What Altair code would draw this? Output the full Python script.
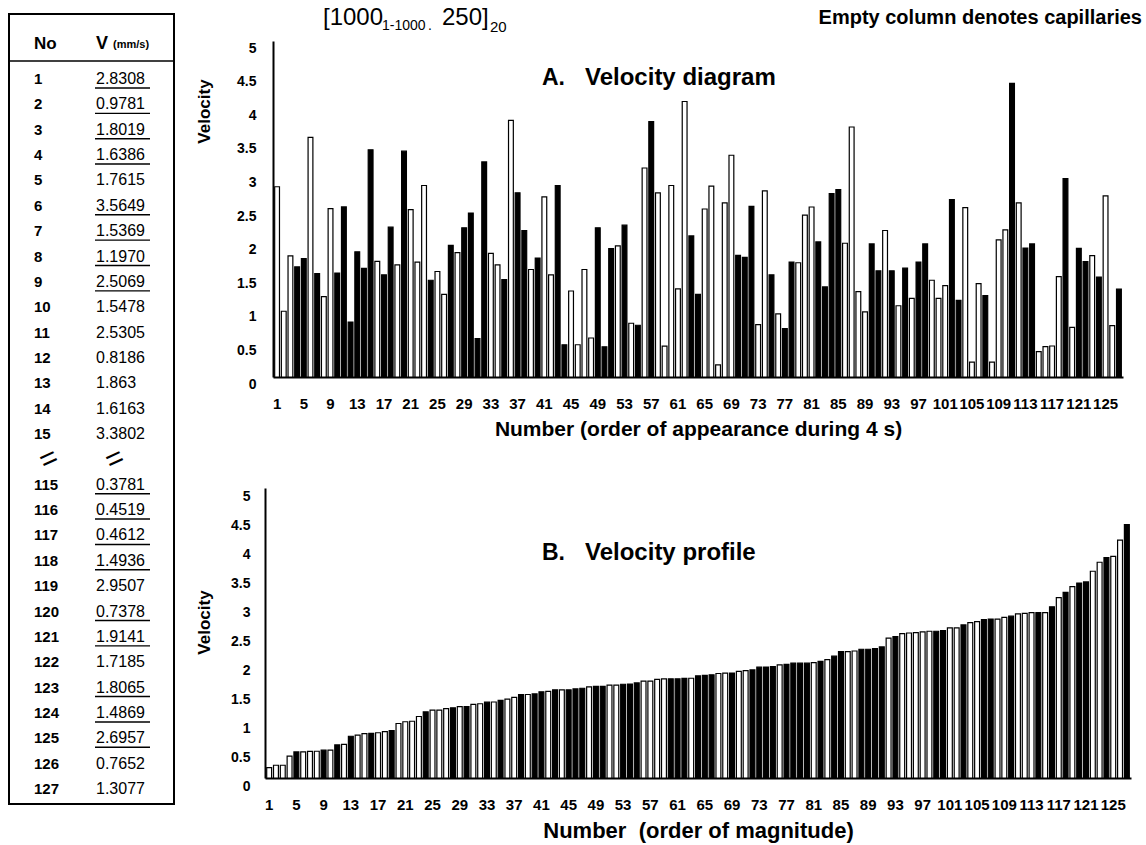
import altair as alt
import pandas as pd

FONT = "Liberation Sans"
NB = "\u00a0"

# ---- data (velocity in mm/s, order of appearance) ----
velocity = [2.8308, 0.9781, 1.8019, 1.6386, 1.7615, 3.5649, 1.5369, 1.1970, 2.5069, 1.5478,
            2.5305, 0.8186, 1.863, 1.6163, 3.3802, 1.72, 1.52, 2.23, 1.67, 3.36,
            2.49, 1.71, 2.85, 1.44, 1.57, 1.23, 1.96, 1.85, 2.22, 2.44,
            0.57, 3.20, 1.84, 1.67, 1.45, 3.82, 2.74, 2.18, 1.60, 1.77,
            2.68, 1.52, 2.85, 0.48, 1.28, 0.48, 1.60, 0.58, 2.22, 0.45,
            1.91, 1.95, 2.26, 0.80, 0.77, 3.11, 3.80, 2.74, 0.46, 2.85,
            1.31, 4.10, 2.10, 1.23, 2.50, 2.84, 0.18, 2.59, 3.30, 1.81,
            1.78, 2.54, 0.78, 2.77, 1.52, 0.94, 0.72, 1.71, 1.70, 2.41,
            2.53, 2.01, 1.34, 2.73, 2.79, 1.99, 3.72, 1.27, 0.97, 1.98,
            1.58, 2.18, 1.58, 1.06, 1.62, 1.17, 1.71, 1.98, 1.44, 1.17,
            1.36, 2.64, 1.14, 2.52, 0.22, 1.39, 1.21, 0.22, 2.04, 2.19,
            4.37, 2.59, 1.92, 1.98, 0.3781, 0.4519, 0.4612, 1.4936, 2.9507, 0.7378,
            1.9141, 1.7185, 1.8065, 1.4869, 2.6957, 0.7652, 1.3077]

# 1 = filled (black) column, 0 = empty column (capillary)
filled = [0, 0, 0, 1, 1, 0, 1, 0, 0, 1,
          1, 1, 1, 1, 1, 0, 1, 1, 0, 1,
          0, 0, 0, 1, 0, 0, 1, 0, 1, 1,
          1, 1, 0, 0, 1, 0, 1, 1, 0, 1,
          0, 0, 1, 1, 0, 0, 0, 0, 1, 1,
          1, 0, 1, 0, 1, 0, 1, 0, 0, 0,
          0, 0, 1, 1, 0, 0, 0, 0, 0, 1,
          1, 1, 0, 0, 1, 0, 1, 1, 0, 0,
          0, 1, 1, 1, 1, 0, 0, 0, 0, 1,
          1, 0, 1, 0, 1, 0, 1, 1, 0, 0,
          0, 1, 1, 0, 0, 0, 1, 0, 0, 0,
          1, 0, 1, 1, 0, 0, 0, 0, 1, 0,
          1, 1, 0, 1, 0, 0, 1]

x_tick_labels = list(range(1, 128, 4))
y_tick_values = [0, 0.5, 1, 1.5, 2, 2.5, 3, 3.5, 4, 4.5, 5]

# ---- table on the left ----
table_no = ["1", "2", "3", "4", "5", "6", "7", "8", "9", "10", "11", "12", "13", "14", "15",
            "115", "116", "117", "118", "119", "120", "121", "122", "123", "124", "125", "126", "127"]
table_v = ["2.8308", "0.9781", "1.8019", "1.6386", "1.7615", "3.5649", "1.5369", "1.1970",
           "2.5069", "1.5478", "2.5305", "0.8186", "1.863", "1.6163", "3.3802",
           "0.3781", "0.4519", "0.4612", "1.4936", "2.9507", "0.7378", "1.9141", "1.7185",
           "1.8065", "1.4869", "2.6957", "0.7652", "1.3077"]
table_underlined = [1, 1, 1, 1, 0, 1, 1, 1, 1, 0, 0, 0, 0, 0, 0,
                    1, 1, 1, 1, 0, 1, 1, 0, 1, 1, 1, 0, 0]

# ---------------------------------------------------------------------------
df = pd.DataFrame({
    "No": list(range(1, len(velocity) + 1)),
    "Velocity": velocity,
    "Kind": ["Filled" if f else "Empty" for f in filled],
})

fill_scale = alt.Scale(domain=["Filled", "Empty"], range=["#000000", "#ffffff"])


def txt(text, x, y, size, weight="bold", align="left"):
    return alt.Chart(pd.DataFrame({"t": [text]})).mark_text(
        align=align, baseline="middle", font=FONT, fontSize=size,
        fontWeight=weight, color="black").encode(
        text="t:N", x=alt.value(x), y=alt.value(y))


def y_axis(title_x, title_y, label_offset, label_padding):
    return alt.Axis(title="Velocity", values=y_tick_values, format="~g",
                    labelOffset=label_offset, labelPadding=label_padding,
                    titleX=title_x, titleY=title_y, titleAngle=270,
                    titleAlign="center", titleBaseline="middle")


# ---- Panel A: velocity diagram ----
A_W, A_H = 850, 336
bars_a = alt.Chart(df).mark_bar(stroke="black", strokeWidth=1.2).encode(
    x=alt.X("No:O", scale=alt.Scale(paddingInner=0.28, paddingOuter=0.25),
            axis=alt.Axis(values=x_tick_labels, labelAngle=0, labelOverlap=False,
                          labelPadding=19, labelFontSize=15,
                          title="Number (order of appearance during 4 s)",
                          titleFontSize=21, titlePadding=7)),
    y=alt.Y("Velocity:Q", scale=alt.Scale(domain=[0, 5], nice=False, zero=True),
            axis=y_axis(-69, 70, 7, 17)),
    fill=alt.Fill("Kind:N", scale=fill_scale, legend=None),
)

panel_a = alt.layer(
    bars_a,
    txt("A.", 269, 37, 23),
    txt("Velocity diagram", 312, 37, 24),
    txt("[1000", 50, -23, 24, weight="normal"),
    txt("1-1000", 109, -15, 14, weight="normal"),
    txt(".", 155, -15, 14, weight="normal"),
    txt("250]", 169, -23, 24, weight="normal"),
    txt("20", 217, -14, 15, weight="normal"),
    txt("Empty column denotes capillaries", 869, -23, 20, align="right"),
).properties(width=A_W, height=A_H)

# ---- Panel B: velocity profile (sorted) ----
B_W, B_H = 866, 290
bars_b = alt.Chart(df).transform_window(
    Rank="row_number()", sort=[alt.SortField("Velocity", order="ascending")]
).mark_bar(stroke="black", strokeWidth=1.2).encode(
    x=alt.X("Rank:O", scale=alt.Scale(paddingInner=0.28, paddingOuter=0.25),
            axis=alt.Axis(values=x_tick_labels, labelAngle=0, labelOverlap=False,
                          labelPadding=19, labelFontSize=15,
                          title="Number" + NB + NB + "(order of magnitude)",
                          titleFontSize=22, titlePadding=8)),
    y=alt.Y("Velocity:Q", scale=alt.Scale(domain=[0, 5], nice=False, zero=True),
            axis=y_axis(-61, 134, 8, 15)),
    fill=alt.Fill("Kind:N", scale=fill_scale, legend=None),
)

panel_b = alt.layer(
    bars_b,
    txt("B.", 277, 65, 23),
    txt("Velocity profile", 320, 65, 24),
).properties(width=B_W, height=B_H)

# ---- Table ----
slots = list(range(15)) + list(range(16, 29))
tdf = pd.DataFrame({"slot": slots, "no": table_no, "v": table_v,
                    "u": table_underlined})
brk = pd.DataFrame({"slot": [15], "s": ["="]})

y_tab = alt.Y("slot:Q", scale=alt.Scale(domain=[0, 28], range=[38, 748], nice=False, zero=False),
              axis=None)

tab_no = alt.Chart(tdf).mark_text(align="left", baseline="middle", font=FONT, fontSize=15,
                                  fontWeight="bold", color="black").encode(
    x=alt.value(25), y=y_tab, text="no:N")
tab_v = alt.Chart(tdf).mark_text(align="left", baseline="middle", font=FONT, fontSize=16,
                                 color="black").encode(
    x=alt.value(87), y=y_tab, text="v:N")
tab_u = alt.Chart(tdf).transform_filter("datum.u == 1").mark_rule(
    yOffset=9, strokeWidth=1.4, color="black").encode(
    x=alt.value(86), x2=alt.value(141), y=y_tab)
brk1 = alt.Chart(brk).mark_text(align="center", baseline="middle", font=FONT, fontSize=30,
                                angle=335, color="black").encode(
    x=alt.value(40), y=y_tab, text="s:N")
brk2 = alt.Chart(brk).mark_text(align="center", baseline="middle", font=FONT, fontSize=30,
                                angle=335, color="black").encode(
    x=alt.value(106), y=y_tab, text="s:N")
head_line = alt.Chart(pd.DataFrame({"a": [0]})).mark_rule(strokeWidth=1.5, color="black").encode(
    x=alt.value(0), x2=alt.value(165), y=alt.value(20))
box = alt.Chart(pd.DataFrame({"a": [0]})).mark_rect(
    filled=False, stroke="black", strokeWidth=2).encode(
    x=alt.value(0), x2=alt.value(165), y=alt.value(-27), y2=alt.value(763))

table = alt.layer(
    box, tab_no, tab_v, tab_u, brk1, brk2, head_line,
    txt("No", 25, 3, 17),
    txt("V", 87, 3, 18),
    txt("(mm/s)", 104, 4, 11),
).properties(width=165, height=763)

right = alt.vconcat(panel_a, panel_b, spacing=111, bounds="flush", center=True)

chart = alt.hconcat(table, right, spacing=20).properties(
    padding={"left": 8, "top": 6, "right": 4, "bottom": 4},
    background="white",
).configure_view(stroke=None).configure_axis(
    domainColor="black", domainWidth=2, ticks=False, grid=False,
    labelFont=FONT, labelFontSize=14, labelFontWeight="bold", labelColor="black",
    titleFont=FONT, titleFontSize=17, titleFontWeight="bold", titleColor="black",
)

chart.save("out.html", embed_options={"renderer": "svg", "actions": False})
